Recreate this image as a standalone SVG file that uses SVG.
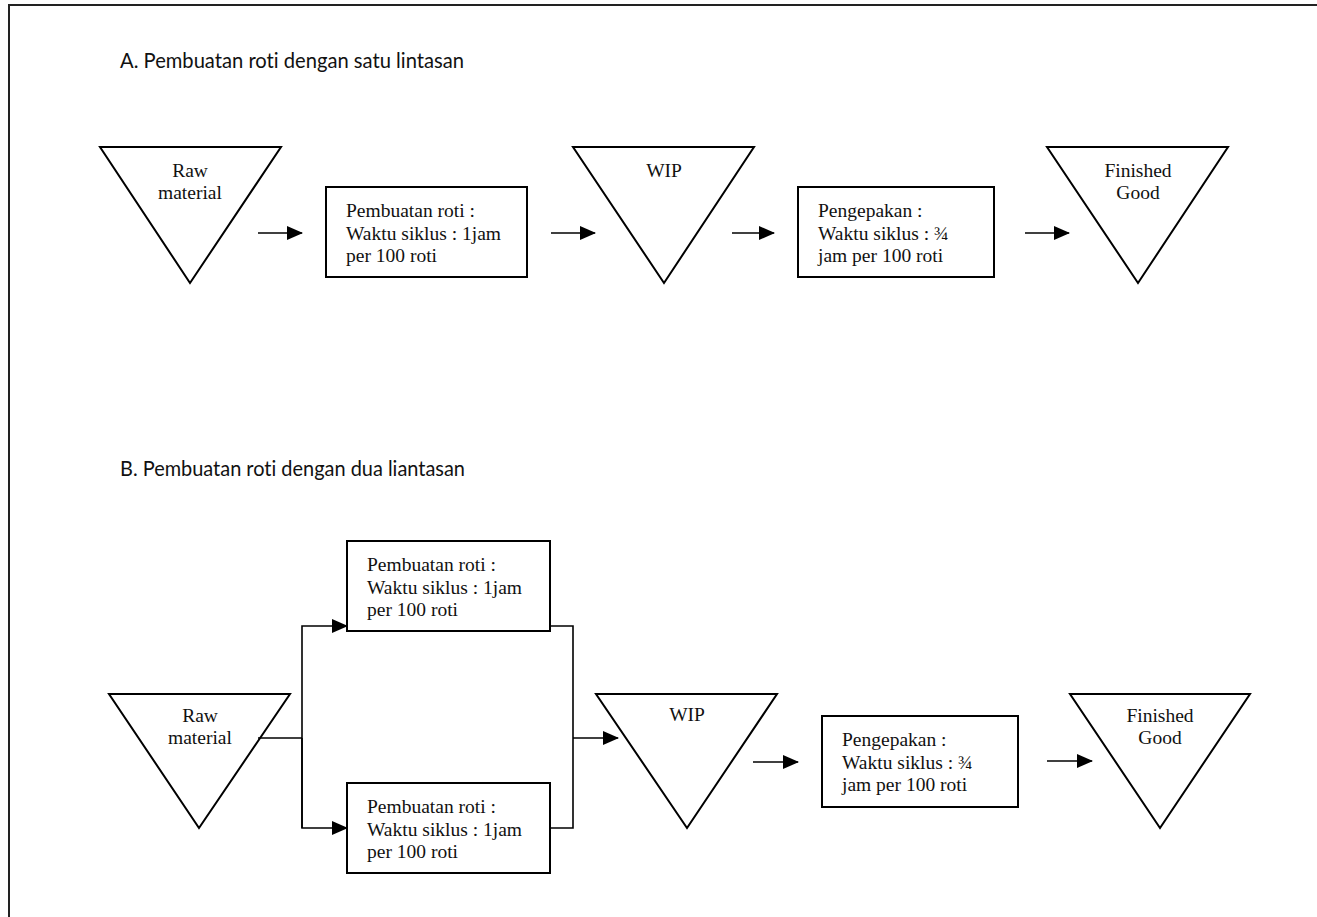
<svg xmlns="http://www.w3.org/2000/svg" width="1317" height="917" viewBox="0 0 1317 917">
<style>
.title{font-family:Lato,"Open Sans","Liberation Sans",sans-serif;font-size:21px;fill:#111;font-variant-ligatures:none;font-feature-settings:"liga" 0}
.lbl{font-family:"Liberation Serif","Times New Roman",serif;font-size:19.5px;fill:#111}
.c{text-anchor:middle}
.shape{fill:#fff;stroke:#000;stroke-width:2}
.con{fill:none;stroke:#000;stroke-width:1.6}
</style>
<defs>
<marker id="ah" markerUnits="userSpaceOnUse" markerWidth="16" markerHeight="14" refX="15" refY="7" orient="auto">
<path d="M0,0 L16,7 L0,14 Z" fill="#000"/>
</marker>
</defs>
<rect width="1317" height="917" fill="#fff"/>
<path d="M9,918 V5 H1318" fill="none" stroke="#222" stroke-width="2"/>

<text class="title" x="120" y="68" textLength="344" lengthAdjust="spacingAndGlyphs">A. Pembuatan roti dengan satu lintasan</text>
<text class="title" x="120" y="476" textLength="345" lengthAdjust="spacingAndGlyphs">B. Pembuatan roti dengan dua liantasan</text>

<!-- Section A -->
<g id="a-raw">
<polygon class="shape" points="100,147 281,147 190,283"/>
<text class="lbl c" x="190" y="177">Raw</text>
<text class="lbl c" x="190" y="199">material</text>
</g>
<g id="a-proc1">
<rect class="shape" x="326" y="187" width="201" height="90"/>
<text class="lbl" x="346" y="217">Pembuatan roti :</text>
<text class="lbl" x="346" y="240">Waktu siklus : 1jam</text>
<text class="lbl" x="346" y="262">per 100 roti</text>
</g>
<g id="a-wip">
<polygon class="shape" points="573,147 754,147 664,283"/>
<text class="lbl c" x="664" y="177">WIP</text>
</g>
<g id="a-proc2">
<rect class="shape" x="798" y="187" width="196" height="90"/>
<text class="lbl" x="818" y="217">Pengepakan :</text>
<text class="lbl" x="818" y="240">Waktu siklus : ¾</text>
<text class="lbl" x="818" y="262">jam per 100 roti</text>
</g>
<g id="a-fg">
<polygon class="shape" points="1047,147 1228,147 1138,283"/>
<text class="lbl c" x="1138" y="177">Finished</text>
<text class="lbl c" x="1138" y="199">Good</text>
</g>

<!-- Section B -->
<g id="b-raw">
<polygon class="shape" points="109,694 290,694 199,828"/>
<text class="lbl c" x="200" y="722">Raw</text>
<text class="lbl c" x="200" y="744">material</text>
</g>
<g id="b-proc1a">
<rect class="shape" x="347" y="541" width="203" height="90"/>
<text class="lbl" x="367" y="571">Pembuatan roti :</text>
<text class="lbl" x="367" y="594">Waktu siklus : 1jam</text>
<text class="lbl" x="367" y="616">per 100 roti</text>
</g>
<g id="b-proc1b">
<rect class="shape" x="347" y="783" width="203" height="90"/>
<text class="lbl" x="367" y="813">Pembuatan roti :</text>
<text class="lbl" x="367" y="836">Waktu siklus : 1jam</text>
<text class="lbl" x="367" y="858">per 100 roti</text>
</g>
<g id="b-wip">
<polygon class="shape" points="596,694 777,694 687,828"/>
<text class="lbl c" x="687" y="721">WIP</text>
</g>
<g id="b-proc2">
<rect class="shape" x="822" y="716" width="196" height="91"/>
<text class="lbl" x="842" y="746">Pengepakan :</text>
<text class="lbl" x="842" y="769">Waktu siklus : ¾</text>
<text class="lbl" x="842" y="791">jam per 100 roti</text>
</g>
<g id="b-fg">
<polygon class="shape" points="1070,694 1250,694 1160,828"/>
<text class="lbl c" x="1160" y="722">Finished</text>
<text class="lbl c" x="1160" y="744">Good</text>
</g>

<g id="connectors">
<line class="con" x1="258" y1="233" x2="302" y2="233" marker-end="url(#ah)"/>
<line class="con" x1="551" y1="233" x2="595" y2="233" marker-end="url(#ah)"/>
<line class="con" x1="732" y1="233" x2="774" y2="233" marker-end="url(#ah)"/>
<line class="con" x1="1025" y1="233" x2="1069" y2="233" marker-end="url(#ah)"/>

<polyline class="con" points="258,738 302,738"/>
<polyline class="con" points="302,828 302,626 347,626" marker-end="url(#ah)"/>
<polyline class="con" points="302,738 302,828 347,828" marker-end="url(#ah)"/>
<polyline class="con" points="550,626 573,626 573,828 550,828"/>
<line class="con" x1="573" y1="738" x2="618" y2="738" marker-end="url(#ah)"/>
<line class="con" x1="753" y1="762" x2="798" y2="762" marker-end="url(#ah)"/>
<line class="con" x1="1047" y1="761" x2="1092" y2="761" marker-end="url(#ah)"/>
</g>
</svg>
